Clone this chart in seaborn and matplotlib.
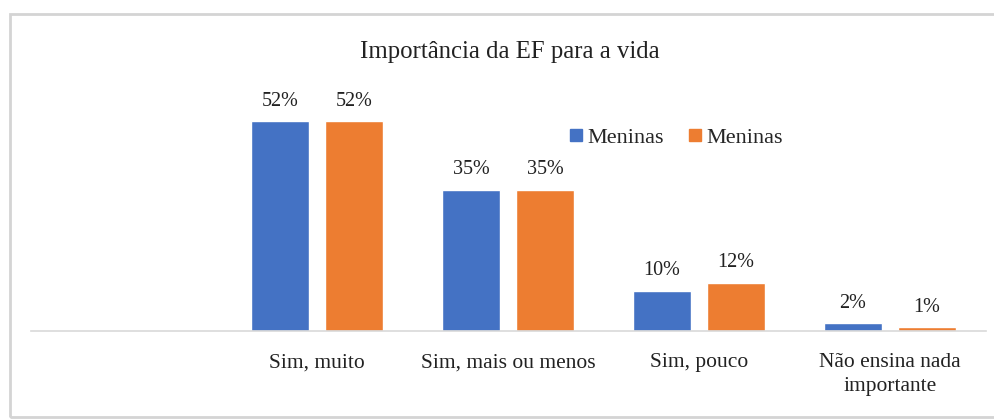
import matplotlib
matplotlib.use("Agg")
import matplotlib.pyplot as plt
import seaborn as sns
import pandas as pd
from matplotlib.patches import Rectangle
from matplotlib.lines import Line2D

categories = ["Sim, muito", "Sim, mais ou menos", "Sim, pouco", "Não ensina nada\nimportante"]
series_labels = ["Meninas", "Meninas"]
series_a = [52, 35, 10, 2]
series_b = [52, 35, 12, 1]
colors = ["#4472C4", "#ED7D31"]
title = "Importância da EF para a vida"

rows = []
for i, (va, vb) in enumerate(zip(series_a, series_b)):
    rows.append({"cat": categories[i], "val": va, "serie": 0})
    rows.append({"cat": categories[i], "val": vb, "serie": 1})
df = pd.DataFrame(rows)

sns.set_theme(style="white")
plt.rcParams["font.family"] = ["Liberation Serif", "DejaVu Serif"]

W, H = 995, 419
fig = plt.figure(figsize=(W / 100, H / 100), dpi=100)
ax = fig.add_axes([30.5 / W, 1 - 331 / H, (985.5 - 30.5) / W, (331 - 88.6) / H])

sns.barplot(data=df, x="cat", y="val", hue="serie", palette=colors,
            width=0.775, gap=0.226, legend=False, ax=ax, saturation=1, errorbar=None)

ax.set_xlim(-1.5, 3.5)
ax.set_ylim(0, 60)
for s in ["top", "right", "left"]:
    ax.spines[s].set_visible(False)
ax.spines["bottom"].set_color("#d9d9d9")
ax.spines["bottom"].set_linewidth(1.2)
ax.set_yticks([])
ax.set_xlabel("")
ax.set_ylabel("")
ax.tick_params(axis="x", length=0, pad=16, labelsize=15.5, colors="#222222")
for lbl in ax.get_xticklabels():
    lbl.set_linespacing(1.36)

for cont, vals in zip(ax.containers, [series_a, series_b]):
    ax.bar_label(cont, labels=[f"{v}%" for v in vals], padding=7.5,
                 fontsize=14.5, color="#222222")

fig.text(0.5 * (360 + 660) / W, 1 - 52 / H, title, ha="center", va="center",
         fontsize=17.8, color="#222222")

handles = [Line2D([0], [0], marker="s", linestyle="", markersize=8,
                  markerfacecolor=c, markeredgecolor=c) for c in colors]
fig.legend(handles, series_labels, loc="center", bbox_to_anchor=(675 / W, 1 - 138 / H),
           ncol=2, frameon=False, fontsize=16, handletextpad=0.1,
           columnspacing=1.0, handlelength=0.8)

fig.patches.append(Rectangle((10 / W, 2 / H), 1.0, 1 - 16 / H, transform=fig.transFigure,
                             fill=False, edgecolor="#d4d4d4", linewidth=2))

fig.savefig("out.png", dpi=100, facecolor="white")
